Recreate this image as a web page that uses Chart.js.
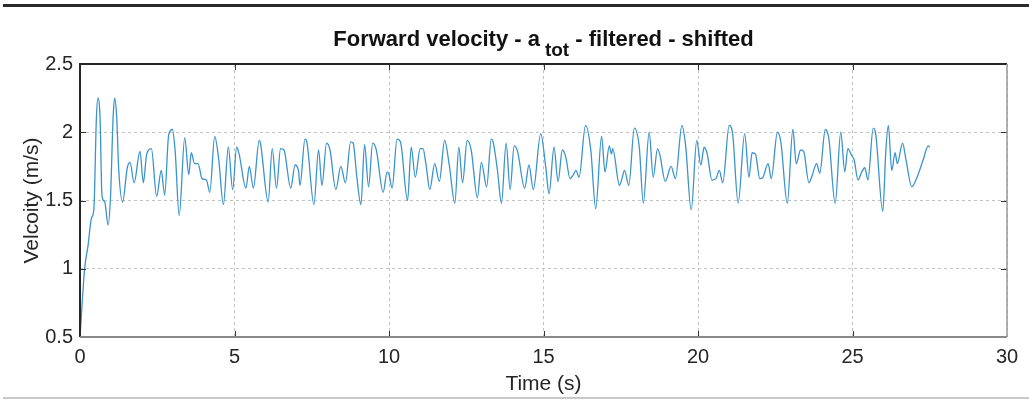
<!DOCTYPE html>
<html>
<head>
<meta charset="utf-8">
<script src="https://cdn.jsdelivr.net/npm/chart.js@4.4.0/dist/chart.umd.min.js"></script>
<style>
  html, body { margin: 0; padding: 0; background: #fff; }
  #wrap { position: relative; width: 1029px; height: 402px; }
</style>
</head>
<body>
<div id="wrap"><canvas id="velChart" width="1029" height="402"></canvas></div>
<script>
// Data
const timeS = [
  0.00, 0.15, 0.26, 0.37, 0.45, 0.53, 0.58, 0.65, 0.71, 0.80, 0.91, 0.99,
  1.07, 1.12, 1.19, 1.25, 1.38, 1.53, 1.62, 1.75, 1.94, 2.05, 2.15, 2.22,
  2.31, 2.48, 2.63, 2.74, 2.87, 2.99, 3.08, 3.21, 3.39, 3.52, 3.60, 3.71,
  3.82, 3.95, 4.09, 4.20, 4.36, 4.49, 4.64, 4.80, 4.94, 5.07, 5.15, 5.37,
  5.48, 5.61, 5.80, 5.84, 6.09, 6.22, 6.36, 6.49, 6.60, 6.82, 6.96, 7.07,
  7.12, 7.28, 7.33, 7.57, 7.72, 7.83, 7.98, 8.09, 8.28, 8.44, 8.59, 8.76,
  8.84, 8.96, 9.09, 9.21, 9.34, 9.47, 9.59, 9.81, 9.94, 10.00, 10.10, 10.26,
  10.37, 10.60, 10.72, 10.85, 11.01, 11.10, 11.20, 11.32, 11.48, 11.63, 11.80, 11.95,
  12.13, 12.26, 12.38, 12.53, 12.66, 12.86, 12.99, 13.16, 13.31, 13.37, 13.51, 13.64,
  13.79, 13.92, 14.05, 14.16, 14.39, 14.53, 14.67, 14.91, 15.07, 15.18, 15.34, 15.47,
  15.61, 15.72, 15.86, 15.97, 16.05, 16.15, 16.36, 16.53, 16.69, 16.88, 16.99, 17.13,
  17.20, 17.24, 17.46, 17.54, 17.62, 17.76, 17.94, 18.10, 18.23, 18.42, 18.55, 18.69,
  18.77, 18.94, 19.13, 19.27, 19.48, 19.60, 19.78, 19.96, 20.09, 20.20, 20.30, 20.45,
  20.58, 20.69, 20.80, 21.01, 21.12, 21.30, 21.51, 21.65, 21.75, 21.86, 22.00, 22.10,
  22.27, 22.37, 22.57, 22.68, 22.89, 23.07, 23.18, 23.32, 23.42, 23.59, 23.69, 23.84,
  23.94, 24.12, 24.23, 24.44, 24.62, 24.75, 24.85, 24.97, 25.05, 25.18, 25.30, 25.40,
  25.50, 25.67, 25.75, 25.98, 26.08, 26.16, 26.27, 26.38, 26.45, 26.62, 26.73, 26.92,
  27.07, 27.29, 27.45, 27.50
];
const velocity = [
  0.50, 1.00, 1.17, 1.37, 1.44, 2.10, 2.25, 2.10, 1.54, 1.49, 1.32, 1.54,
  2.10, 2.25, 2.10, 1.74, 1.49, 1.74, 1.78, 1.63, 1.86, 1.63, 1.83, 1.87,
  1.88, 1.53, 1.72, 1.54, 1.98, 2.02, 1.86, 1.39, 1.96, 1.69, 1.85, 1.77,
  1.77, 1.66, 1.65, 1.56, 1.97, 1.80, 1.47, 1.89, 1.58, 1.89, 1.84, 1.59,
  1.75, 1.59, 1.94, 1.92, 1.49, 1.88, 1.59, 1.88, 1.87, 1.59, 1.76, 1.72,
  1.61, 1.95, 1.94, 1.47, 1.87, 1.61, 1.92, 1.87, 1.58, 1.75, 1.63, 1.93,
  1.92, 1.67, 1.47, 1.91, 1.60, 1.92, 1.87, 1.56, 1.71, 1.69, 1.59, 1.95,
  1.93, 1.50, 1.89, 1.67, 1.88, 1.88, 1.76, 1.58, 1.77, 1.64, 1.94, 1.76,
  1.48, 1.89, 1.63, 1.94, 1.87, 1.52, 1.78, 1.60, 1.95, 1.93, 1.72, 1.48,
  1.92, 1.58, 1.90, 1.86, 1.59, 1.76, 1.58, 1.99, 1.75, 1.55, 1.89, 1.64,
  1.87, 1.82, 1.66, 1.69, 1.72, 1.67, 2.05, 1.87, 1.44, 1.97, 1.71, 1.90,
  1.84, 1.88, 1.61, 1.66, 1.72, 1.61, 2.03, 1.89, 1.48, 2.00, 1.67, 1.88,
  1.83, 1.64, 1.75, 1.66, 2.05, 1.90, 1.43, 1.94, 1.76, 1.89, 1.84, 1.65,
  1.66, 1.72, 1.63, 2.05, 1.99, 1.48, 1.99, 1.67, 1.85, 1.84, 1.66, 1.67,
  1.77, 1.66, 2.00, 1.93, 1.48, 2.02, 1.77, 1.87, 1.86, 1.63, 1.68, 1.77,
  1.70, 2.02, 1.96, 1.48, 2.00, 1.71, 1.88, 1.83, 1.80, 1.65, 1.71, 1.74,
  1.65, 2.03, 1.99, 1.42, 1.87, 2.05, 1.72, 1.85, 1.77, 1.92, 1.80, 1.60,
  1.66, 1.80, 1.90, 1.89
];
const xTicks = [0, 5, 10, 15, 20, 25, 30];
const yTicks = [0.5, 1, 1.5, 2, 2.5];

const FONT = '"Liberation Sans", Arial, Helvetica, sans-serif';
Chart.defaults.font.family = FONT;
Chart.defaults.color = '#262626';

// page rules, axes box with inward ticks, and the title with subscript
const matlabLook = {
  id: 'matlabLook',
  beforeDraw(chart) {
    const ctx = chart.ctx;
    ctx.save();
    ctx.fillStyle = '#fff';
    ctx.fillRect(0, 0, chart.width, chart.height);
    ctx.fillStyle = '#2b2b2b';
    ctx.fillRect(3, 4, chart.width - 3, 3);
    ctx.fillStyle = '#c8c8c8';
    ctx.fillRect(3, 397, chart.width - 3, 2);
    ctx.restore();
  },
  afterDraw(chart) {
    const ctx = chart.ctx;
    const a = chart.chartArea;
    const xs = chart.scales.x, ys = chart.scales.y;
    ctx.save();
    // inward ticks
    ctx.strokeStyle = '#333';
    ctx.lineWidth = 1;
    ctx.beginPath();
    xTicks.slice(1, -1).forEach(v => {
      const px = Math.round(xs.getPixelForValue(v)) + 0.5;
      ctx.moveTo(px, a.bottom); ctx.lineTo(px, a.bottom - 6);
      ctx.moveTo(px, a.top); ctx.lineTo(px, a.top + 6);
    });
    yTicks.slice(1, -1).forEach(v => {
      const py = Math.round(ys.getPixelForValue(v)) + 0.5;
      ctx.moveTo(a.left, py); ctx.lineTo(a.left + 6, py);
      ctx.moveTo(a.right, py); ctx.lineTo(a.right - 6, py);
    });
    ctx.stroke();
    // box
    ctx.lineWidth = 2;
    ctx.strokeStyle = '#262626';
    ctx.beginPath();
    ctx.moveTo(a.left, a.bottom); ctx.lineTo(a.left, a.top); ctx.lineTo(a.right, a.top);
    ctx.stroke();
    ctx.strokeStyle = '#8a8a8a';
    ctx.beginPath();
    ctx.moveTo(a.left, a.bottom); ctx.lineTo(a.right, a.bottom);
    ctx.stroke();
    ctx.lineWidth = 1.5;
    ctx.strokeStyle = '#9a9a9a';
    ctx.beginPath();
    ctx.moveTo(a.right, a.top); ctx.lineTo(a.right, a.bottom);
    ctx.stroke();

    // title
    const mainFont = 'bold 22px ' + FONT;
    const subFont = 'bold 19px ' + FONT;
    const t1 = 'Forward velocity - a', tSub = 'tot', t2 = ' - filtered - shifted';
    ctx.font = mainFont;
    const w1 = ctx.measureText(t1).width, w2 = ctx.measureText(t2).width;
    ctx.font = subFont;
    const ws = ctx.measureText(tSub).width;
    const gap = 5;
    let x = (a.left + a.right) / 2 - (w1 + gap + ws + w2) / 2;
    ctx.fillStyle = '#111';
    ctx.textBaseline = 'alphabetic';
    ctx.textAlign = 'left';
    ctx.font = mainFont;
    ctx.fillText(t1, x, 46);
    x += w1 + gap;
    ctx.font = subFont;
    ctx.fillText(tSub, x, 56);
    x += ws;
    ctx.font = mainFont;
    ctx.fillText(t2, x, 46);
    ctx.restore();
  }
};

const ctx = document.getElementById('velChart').getContext('2d');
new Chart(ctx, {
  type: 'line',
  data: {
    datasets: [{
      label: 'Velocity',
      data: timeS.map((t, i) => ({ x: t, y: velocity[i] })),
      borderColor: '#3a93cc',
      borderWidth: 1.3,
      pointRadius: 0,
      fill: false,
      cubicInterpolationMode: 'monotone'
    }]
  },
  options: {
    responsive: false,
    animation: false,
    layout: { padding: { left: 0, top: 64, right: 22, bottom: 0 } },
    plugins: { legend: { display: false }, tooltip: { enabled: false } },
    scales: {
      x: {
        type: 'linear',
        min: 0, max: 30,
        afterBuildTicks: s => { s.ticks = xTicks.map(v => ({ value: v })); },
        afterFit: s => { s.height = 65; },
        grid: { color: '#c2c2c2', lineWidth: 1, drawTicks: false },
        border: { display: false, dash: [3, 3] },
        ticks: { padding: 8, maxRotation: 0, font: { size: 20 }, color: '#262626', callback: v => String(v) },
        title: { display: true, text: 'Time (s)', font: { size: 21 }, color: '#262626', padding: { top: 0, bottom: 5 } }
      },
      y: {
        min: 0.5, max: 2.5,
        afterBuildTicks: s => { s.ticks = yTicks.map(v => ({ value: v })); },
        afterFit: s => { s.width = 80; },
        grid: { color: '#c2c2c2', lineWidth: 1, drawTicks: false },
        border: { display: false, dash: [3, 3] },
        ticks: { padding: 7, font: { size: 20 }, color: '#262626', callback: v => String(v) },
        title: { display: true, text: 'Velcoity (m/s)', font: { size: 21 }, color: '#262626', padding: { top: 20, bottom: 0 } }
      }
    }
  },
  plugins: [matlabLook]
});
</script>
</body>
</html>
